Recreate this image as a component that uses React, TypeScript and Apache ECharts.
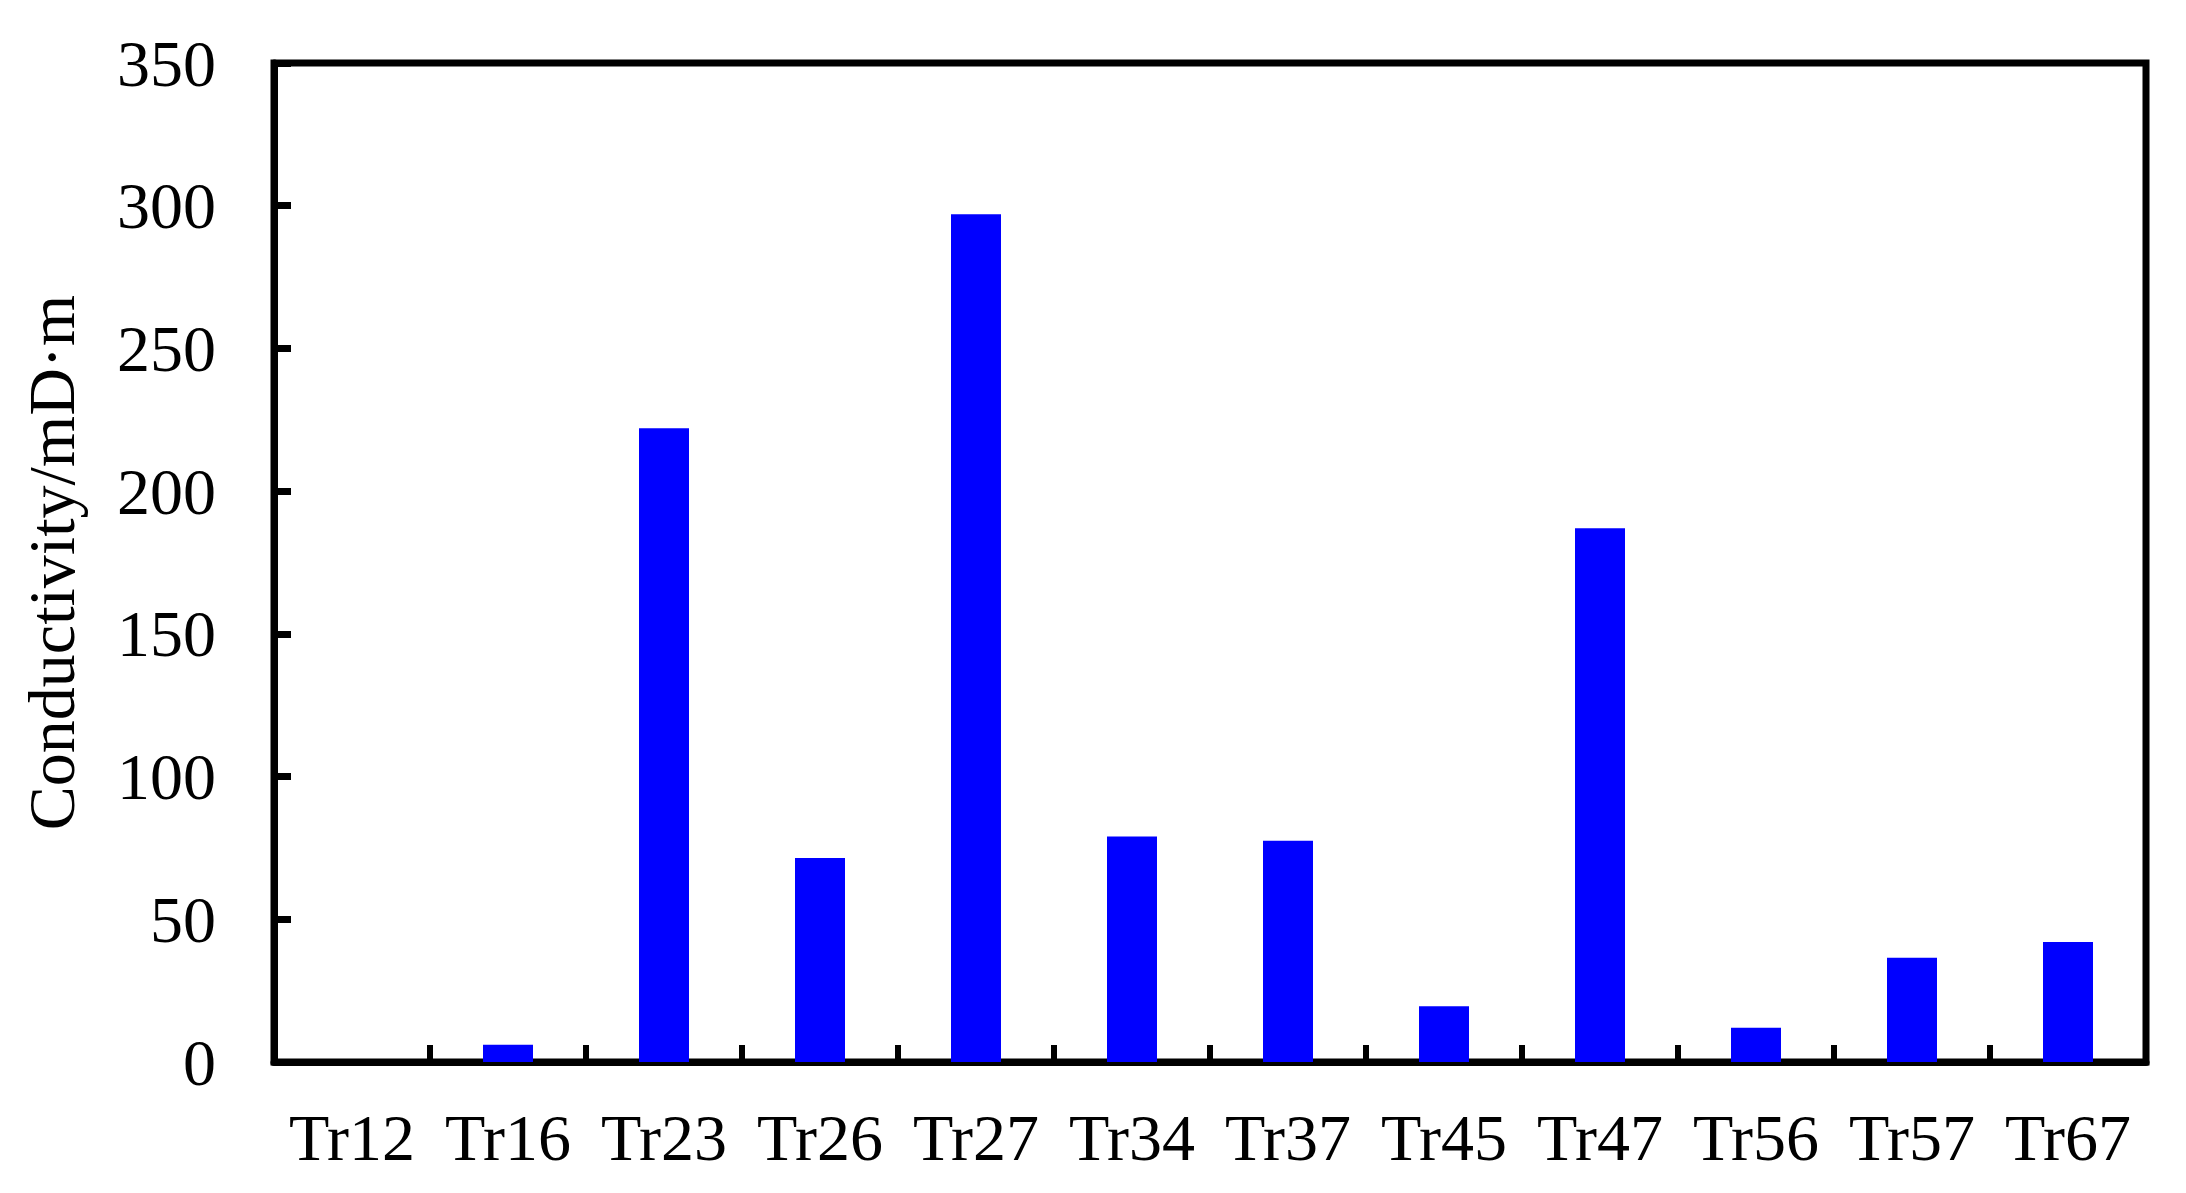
import React, { useEffect, useRef } from "react";
import * as echarts from "echarts";

const categories = ["Tr12", "Tr16", "Tr23", "Tr26", "Tr27", "Tr34", "Tr37", "Tr45", "Tr47", "Tr56", "Tr57", "Tr67"];
const conductivity = [0, 6, 222, 71.5, 297, 79, 77.5, 19.5, 187, 12, 36.5, 42];
const yAxisName = "Conductivity/mD·m";
const yMin = 0;
const yMax = 350;
const yInterval = 50;

const FONT = "Liberation Serif";

export default function App() {
  const ref = useRef<HTMLDivElement>(null);
  useEffect(() => {
    if (!ref.current) return;
    const chart = echarts.init(ref.current, null, { renderer: "svg" });
    chart.setOption({
      animation: false,
      backgroundColor: "#ffffff",
      grid: {
        left: 274,
        right: 40,
        top: 63,
        bottom: 131,
        show: true,
        borderColor: "#000",
        borderWidth: 7,
        backgroundColor: "transparent",
      },
      xAxis: {
        type: "category",
        data: categories,
        boundaryGap: true,
        axisLine: { show: true, lineStyle: { color: "#000", width: 7 } },
        axisTick: { show: true, inside: true, length: 17, interval: 0, lineStyle: { color: "#000", width: 6 } },
        axisLabel: { color: "#000", fontFamily: FONT, fontSize: 66, margin: 42, interval: 0 },
        splitLine: { show: false },
      },
      yAxis: {
        type: "value",
        min: yMin,
        max: yMax,
        interval: yInterval,
        name: yAxisName,
        nameLocation: "middle",
        nameGap: 190,
        nameTextStyle: { color: "#000", fontFamily: FONT, fontSize: 66 },
        axisLine: { show: true, lineStyle: { color: "#000", width: 7 } },
        axisTick: { show: true, inside: true, length: 17, lineStyle: { color: "#000", width: 7 } },
        axisLabel: { color: "#000", fontFamily: FONT, fontSize: 66, margin: 58 },
        splitLine: { show: false },
      },
      series: [
        {
          type: "bar",
          data: conductivity,
          barWidth: 50,
          itemStyle: { color: "#0000ff" },
        },
      ],
    });
    return () => chart.dispose();
  }, []);
  return <div ref={ref} style={{ width: 2186, height: 1193, position: "absolute", left: 0, top: 0 }} />;
}
